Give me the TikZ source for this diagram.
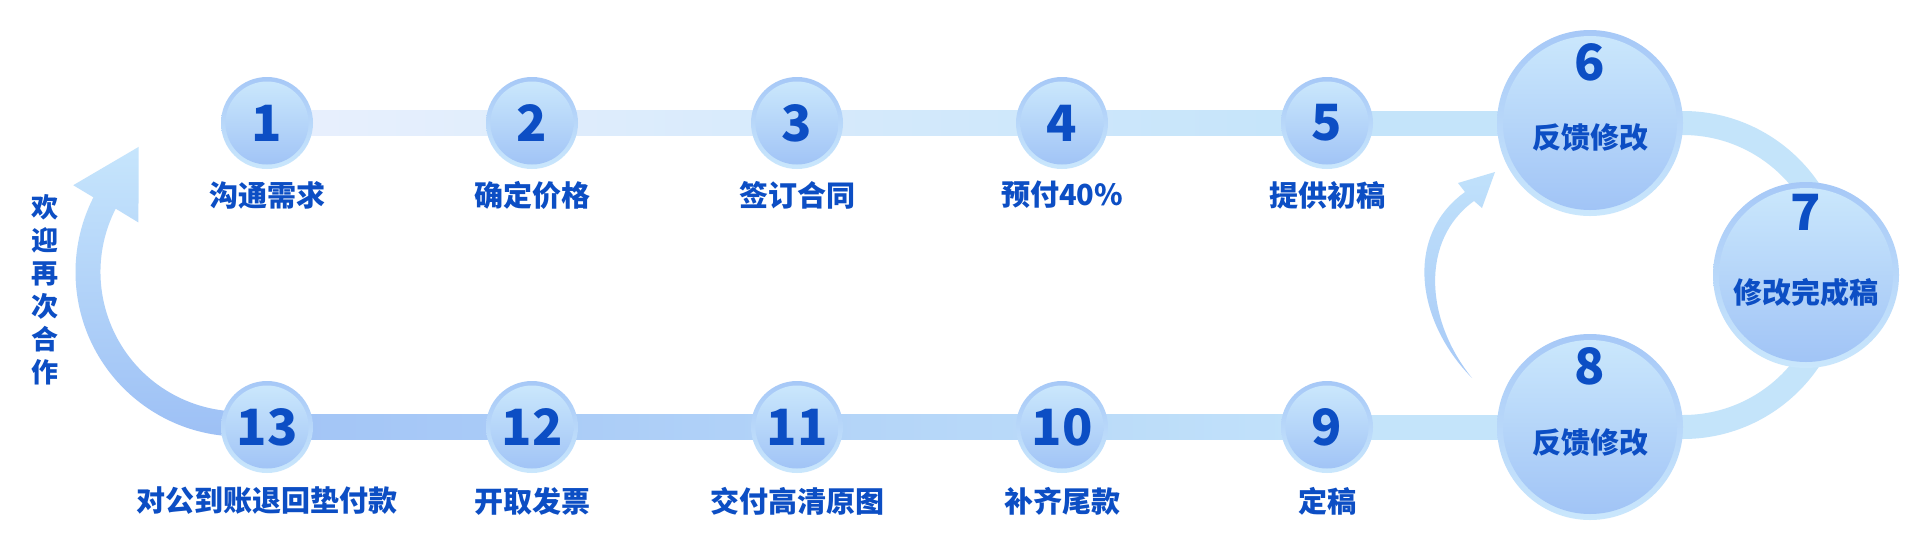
\documentclass[tikz,border=0pt]{standalone}
\usepackage{fontspec}
\setmainfont{Noto Sans CJK SC}
\usetikzlibrary{calc}
\pgfdeclarelayer{bg}
\pgfsetlayers{bg,main}
\definecolor{txt}{RGB}{12,78,196}
\definecolor{ringtop}{RGB}{166,200,247}
\definecolor{ringbot}{RGB}{202,231,252}
\definecolor{disctop}{RGB}{202,231,252}
\definecolor{discbot}{RGB}{161,196,246}
\definecolor{barc}{RGB}{196,228,250}
\definecolor{topL}{RGB}{233,240,253}
\definecolor{topR}{RGB}{196,228,250}
\definecolor{botL}{RGB}{162,196,246}
\definecolor{botR}{RGB}{194,226,250}
\definecolor{arrT}{RGB}{198,229,252}
\definecolor{arrB}{RGB}{156,191,245}
\definecolor{sarT}{RGB}{192,225,251}
\definecolor{sarB}{RGB}{168,202,247}
\tikzset{
  ring/.style={circle, inner sep=0pt, outer sep=0pt, minimum size=#1, top color=ringtop, bottom color=ringbot, draw=none},
  disc/.style={circle, inner sep=0pt, outer sep=0pt, minimum size=#1, top color=disctop, bottom color=discbot, draw=none},
  num/.style={text=txt, inner sep=0pt, font=\bfseries\fontsize{50}{50}\selectfont},
  lab/.style={text=txt, inner sep=0pt, font=\bfseries\fontsize{29}{30}\selectfont},
  vlab/.style={text=txt, inner sep=0pt, align=center, font=\bfseries\fontsize{27}{33}\selectfont},
}
\begin{document}
\begin{tikzpicture}[x=1pt,y=-1pt]
\useasboundingbox (0,0) rectangle (1920,550);
% small circles top
\foreach \n/\x/\t in {1/267/沟通需求,2/532/确定价格,3/797/签订合同,4/1062/预付40\%,5/1327/提供初稿}{
  \node[ring=92pt] (n\n) at (\x,123) {};
  \node[disc=83pt] at (n\n) {};
  \node[num] (n\n num) at (n\n) {\n};
  \node[lab] (n\n lab) at (\x,195) {\t};
}
\foreach \n/\x/\t in {13/267/对公到账退回垫付款,12/532/开取发票,11/797/交付高清原图,10/1062/补齐尾款,9/1327/定稿}{
  \node[ring=92pt] (n\n) at (\x,427) {};
  \node[disc=83pt] at (n\n) {};
  \node[num] (n\n num) at (n\n) {\n};
  \node[lab] (n\n lab) at (\x,501) {\t};
}
% big circles
\node[ring=186pt] (n6) at (1590,123) {};
\node[disc=174pt] at (n6) {};
\node[num] (n6num) at (1590,62) {6};
\node[lab] (n6lab) at (1590,138) {反馈修改};
\node[ring=186pt] (n7) at (1806,275) {};
\node[disc=174pt] at (n7) {};
\node[num] (n7num) at (1806,212) {7};
\node[lab] (n7lab) at (1806,292) {修改完成稿};
\node[ring=186pt] (n8) at (1590,427) {};
\node[disc=174pt] at (n8) {};
\node[num] (n8num) at (1590,366) {8};
\node[lab] (n8lab) at (1590,443) {反馈修改};
% vertical text
\node[vlab] (welcome) at (45,289.5) {欢\\迎\\再\\次\\合\\作};
\coordinate (lc) at (240,272);
\begin{pgfonlayer}{bg}
  \fill[white] (0,0) rectangle (1920,550);
  % top bar
  \shade[left color=topL, right color=topR] ($(n1.center)+(0,-12.5)$) rectangle ($(n5.center)+(0,12.5)$);
  \fill[barc] ($(n5.center)+(0,-12.5)$) rectangle ($(n6.center)+(0,12.5)$);
  % bottom bar
  \shade[left color=botL, right color=botR] ($(n13.center)+(0,-12.5)$) rectangle ($(n9.center)+(0,12.5)$);
  \fill[barc] ($(n9.center)+(0,-12.5)$) rectangle ($(n8.center)+(0,12.5)$);
  % right loop 6 -> 7 -> 8
  \draw[barc, line width=24pt] (n6.center) -- ++(93,0) arc[start angle=-90, end angle=90, radius=152] -- (n8.center);
  % return arrow 13 -> 1
  \shade[top color=arrT, bottom color=arrB]
    ($(lc)+(85:164.5)$) arc[start angle=85, end angle=207, radius=164.5]
    -- ($(lc)+(207.5:188)$) -- ($(lc)+(231:161)$) -- ($(lc)+(206:113)$)
    -- ($(lc)+(207:139.5)$) arc[start angle=207, end angle=85, radius=139.5] -- cycle;
  % small arrow 8 -> 6
  \shade[top color=sarT, bottom color=sarB]
    (1472,378) .. controls (1415,320) and (1405,235) .. (1465,192)
    -- (1458,183) -- (1495,172) -- (1482,208) -- (1474,201)
    .. controls (1420,240) and (1425,320) .. (1472,378) -- cycle;
\end{pgfonlayer}
\end{tikzpicture}
\end{document}
